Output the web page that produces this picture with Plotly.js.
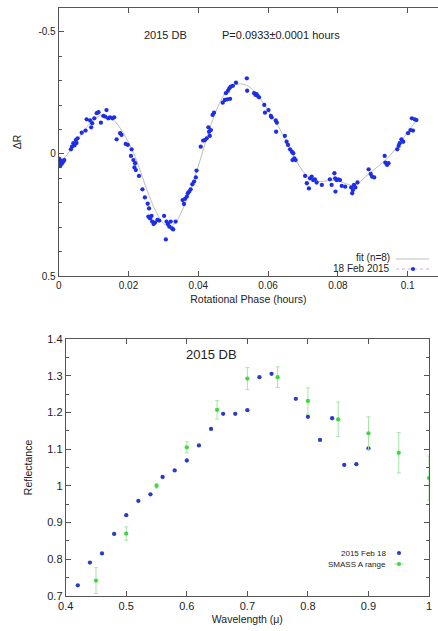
<!DOCTYPE html>
<html>
<head>
<meta charset="utf-8">
<script src="https://cdn.plot.ly/plotly-3.0.1.min.js"></script>
<style>html,body{margin:0;padding:0;background:#fff;}#chart{width:438px;height:631px;}</style>
</head>
<body>
<div id="chart"></div>
<script>
// ---- Light curve (top panel) ----
const lcPhase = [0.0002,0.0003,0.0004,0.0005,0.0007,0.0009,0.0011,0.0013,0.0016,
 0.0035,0.0038,0.0042,0.0045,0.0049,0.0051,0.0054,0.0066,0.0077,0.0080,0.0090,0.0093,0.0096,0.0102,0.0109,0.0114,0.0121,0.0128,0.0133,0.0137,0.0142,0.0147,0.0154,0.0159,
 0.0166,0.0176,0.0180,0.0192,0.0198,0.0207,0.0209,0.0214,0.0217,0.0219,0.0221,0.0230,0.0240,0.0247,0.0255,0.0259,0.0257,0.0262,0.0266,0.0268,0.0272,0.0276,0.0283,0.0288,
 0.0302,0.0307,0.0309,0.0313,0.0317,0.0321,0.0325,0.0328,0.0335,
 0.0355,0.0359,0.0362,0.0367,0.0370,0.0374,0.0378,0.0383,0.0388,0.0393,0.0395,0.0407,0.0414,0.0419,0.0424,0.0429,0.0431,0.0433,0.0436,0.0441,0.0445,
 0.0470,0.0476,0.0479,0.0483,0.0485,0.0489,0.0491,0.0493,0.0499,0.0508,0.0539,0.0540,
 0.0560,0.0564,0.0567,0.0570,0.0574,0.0589,0.0591,0.0601,0.0608,0.0610,0.0622,0.0625,0.0623,0.0648,0.0653,0.0657,0.0663,0.0668,0.0672,0.0670,0.0675,0.0679,
 0.0706,0.0711,0.0720,0.0717,0.0725,0.0729,0.0734,0.0739,0.0754,0.0777,0.0782,0.0790,0.0792,0.0796,0.0801,0.0793,0.0806,0.0811,0.0821,0.0838,0.0841,0.0843,0.0846,0.0850,0.0856,
 0.0888,0.0894,0.0898,0.0904,0.0934,0.0936,0.0941,0.0945,0.0970,0.0974,0.0977,0.0982,0.0987,0.1001,0.1008,0.1015,0.1012,0.1020,0.1025];
const lcDR = [0.020,0.035,0.050,0.045,0.030,0.040,0.028,0.032,0.025,
 -0.019,-0.030,-0.044,-0.035,-0.057,-0.045,-0.064,-0.087,-0.096,-0.142,-0.137,-0.109,-0.126,-0.146,-0.167,-0.171,-0.128,-0.156,-0.153,-0.180,-0.146,-0.150,-0.146,-0.150,
 -0.060,-0.085,-0.078,-0.041,-0.037,0.008,-0.019,0.025,0.055,0.038,0.066,0.090,0.145,0.178,0.204,0.223,0.257,0.264,0.254,0.277,0.287,0.281,0.270,0.273,
 0.254,0.350,0.277,0.287,0.298,0.277,0.305,0.309,0.277,
 0.189,0.205,0.184,0.175,0.161,0.154,0.145,0.124,0.113,0.096,0.068,-0.030,-0.055,-0.057,-0.064,-0.109,-0.091,-0.074,-0.098,-0.160,-0.169,
 -0.210,-0.221,-0.249,-0.224,-0.259,-0.269,-0.226,-0.276,-0.279,-0.292,-0.310,-0.259,
 -0.249,-0.242,-0.245,-0.238,-0.232,-0.201,-0.169,-0.180,-0.156,-0.150,-0.137,-0.128,-0.091,-0.074,-0.050,-0.037,-0.019,-0.009,-0.003,0.025,0.018,0.025,
 0.090,0.120,0.100,0.141,0.093,0.107,0.104,0.117,0.127,0.104,0.127,0.079,0.100,0.107,0.104,0.154,0.107,0.131,0.134,0.137,0.161,0.148,0.127,0.137,0.117,
 0.063,0.082,0.093,0.096,0.008,0.036,0.045,0.038,-0.019,-0.033,-0.044,-0.060,-0.050,-0.085,-0.098,-0.096,-0.146,-0.142,-0.139];

const fitPhase = [0,0.002,0.004,0.006,0.008,0.010,0.012,0.014,0.016,0.018,0.020,0.022,0.024,0.026,0.028,0.030,0.032,0.034,0.036,0.038,0.040,0.042,0.044,0.046,0.048,0.050,0.052,0.054,0.056,0.058,0.060,0.062,0.064,0.066,0.068,0.070,0.072,0.074,0.076,0.078,0.080,0.082,0.084,0.086,0.088,0.090,0.092,0.094,0.096,0.098,0.100,0.102,0.1025];
const fitDR = [0.035,0.010,-0.030,-0.070,-0.110,-0.140,-0.157,-0.155,-0.135,-0.098,-0.048,0.015,0.095,0.175,0.240,0.285,0.295,0.270,0.210,0.135,0.050,-0.045,-0.135,-0.205,-0.255,-0.280,-0.287,-0.280,-0.257,-0.222,-0.180,-0.135,-0.085,-0.030,0.025,0.072,0.100,0.112,0.112,0.108,0.110,0.120,0.128,0.118,0.092,0.068,0.045,0.020,-0.012,-0.050,-0.090,-0.128,-0.138];

// ---- Reflectance spectrum (bottom panel) ----
const wlObs = [0.42,0.44,0.46,0.48,0.50,0.52,0.54,0.56,0.58,0.60,0.62,0.64,0.66,0.68,0.70,0.72,0.74,0.78,0.80,0.82,0.84,0.86,0.88,0.90];
const reflObs = [0.729,0.791,0.816,0.869,0.920,0.959,0.977,1.024,1.042,1.069,1.110,1.155,1.196,1.196,1.206,1.296,1.305,1.237,1.188,1.125,1.184,1.057,1.059,1.102];
const wlSmass = [0.45,0.50,0.55,0.60,0.65,0.70,0.75,0.80,0.85,0.90,0.95,1.00];
const reflSmass = [0.742,0.870,1.000,1.105,1.207,1.292,1.296,1.231,1.181,1.143,1.090,1.021];
const errSmass = [0.035,0.018,0.006,0.015,0.025,0.030,0.028,0.036,0.047,0.045,0.055,0.060];

const topTickVals = [0,0.02,0.04,0.06,0.08,0.1];
const topTickText = ['0','0.02','0.04','0.06','0.08','0.1'];
const legendTop = ['fit (n=8)', '18 Feb 2015'];
const legendBottom = ['2015 Feb 18', 'SMASS A range'];

const FONT = 'Liberation Sans, Arial, Helvetica, sans-serif';
const TXT = '#222';
const AX = '#555';
const C_LC = '#1d2ee6', C_FIT = '#bdbdbd', C_OBS = '#2b3cc4', C_SM = '#3fd83f', C_SMERR = '#a6e6a6';

const traces = [
  {x: fitPhase, y: fitDR, mode: 'lines', line: {color: C_FIT, width: 1, shape: 'spline'},
   name: legendTop[0], xaxis: 'x', yaxis: 'y', hoverinfo: 'skip'},
  {x: lcPhase, y: lcDR, mode: 'markers', marker: {color: C_LC, size: 4.3},
   name: legendTop[1], xaxis: 'x', yaxis: 'y'},
  {x: wlObs, y: reflObs, mode: 'markers', marker: {color: C_OBS, size: 4.3},
   name: legendBottom[0], xaxis: 'x2', yaxis: 'y2'},
  {x: wlSmass, y: reflSmass, mode: 'markers', marker: {color: C_SM, size: 4.3},
   error_y: {type: 'data', array: errSmass, visible: true, color: C_SMERR, thickness: 1, width: 2},
   name: legendBottom[1], xaxis: 'x2', yaxis: 'y2'}
];

const axCommon = {showline: true, linecolor: AX, linewidth: 1, ticks: 'inside', tickcolor: AX,
  ticklen: 5, zeroline: false, showgrid: false, tickfont: {family: FONT, size: 10, color: TXT}};

// legend keys (drawn as small paper-space decorations, like a gnuplot key)
const px = v => v / 438, py = v => 1 - v / 631;
function dot(cx, cy, color) {
  return {type: 'circle', xref: 'paper', yref: 'paper', x0: px(cx - 2.1), x1: px(cx + 2.1),
    y0: py(cy + 2.1), y1: py(cy - 2.1), fillcolor: color, line: {width: 0}};
}
function seg(x0, x1, y, color, dash) {
  return {type: 'line', xref: 'paper', yref: 'paper', x0: px(x0), x1: px(x1), y0: py(y), y1: py(y),
    line: {color: color, width: 1, dash: dash || 'solid'}};
}
const shapes = [
  seg(396, 429, 259, C_FIT),
  seg(396, 431, 269, '#d7a6e3', 'dot'),
  dot(413, 269, C_LC),
  dot(399, 553, C_OBS),
  seg(394, 404, 564, C_SMERR),
  dot(399, 564, C_SM)
];

const layout = {
  width: 438, height: 631,
  margin: {l: 0, r: 0, t: 0, b: 0},
  paper_bgcolor: '#fff', plot_bgcolor: '#fff',
  font: {family: FONT, color: TXT},
  showlegend: false,
  xaxis: Object.assign({}, axCommon, {
    domain: [0.134, 1], range: [0, 0.10868], anchor: 'y', mirror: 'ticks',
    tickvals: topTickVals, ticktext: topTickText,
    title: {text: 'Rotational Phase (hours)', font: {family: FONT, size: 10.5, color: TXT}, standoff: 5}
  }),
  yaxis: Object.assign({}, axCommon, {
    domain: [0.5626, 0.9873], range: [0.5, -0.598], anchor: 'x', mirror: false,
    tickvals: [-0.5, 0, 0.5], ticktext: ['-0.5', '0', '0.5'],
    minor: {dtick: 0.1, ticklen: 3, tickcolor: AX, ticks: 'inside'},
    title: {text: 'ΔR', font: {family: FONT, size: 10.5, color: TXT}, standoff: 14}
  }),
  xaxis2: Object.assign({}, axCommon, {
    domain: [0.15, 0.9795], range: [0.4, 1.0], anchor: 'y2', mirror: 'ticks',
    tickvals: [0.4,0.5,0.6,0.7,0.8,0.9,1], ticktext: ['0.4','0.5','0.6','0.7','0.8','0.9','1'],
    tickfont: {family: FONT, size: 11, color: TXT},
    title: {text: 'Wavelength (μ)', font: {family: FONT, size: 10.5, color: TXT}, standoff: 4}
  }),
  yaxis2: Object.assign({}, axCommon, {
    domain: [0.0555, 0.4628], range: [0.7, 1.4], anchor: 'x2', mirror: 'ticks',
    tickvals: [0.7,0.8,0.9,1,1.1,1.2,1.3,1.4], ticktext: ['0.7','0.8','0.9','1','1.1','1.2','1.3','1.4'],
    tickfont: {family: FONT, size: 11, color: TXT},
    minor: {dtick: 0.05, ticklen: 3, tickcolor: AX, ticks: 'inside'},
    title: {text: 'Reflectance', font: {family: FONT, size: 10.5, color: TXT}, standoff: 12}
  }),
  shapes: shapes,
  annotations: [
    {xref: 'paper', yref: 'paper', x: 165/438, y: py(35), text: '2015 DB', showarrow: false,
     xanchor: 'center', yanchor: 'middle', font: {family: FONT, size: 11, color: TXT}},
    {xref: 'paper', yref: 'paper', x: 220/438, y: py(35), text: 'P=0.0933±0.0001 hours', showarrow: false,
     xanchor: 'left', yanchor: 'middle', font: {family: FONT, size: 11, color: TXT}},
    {xref: 'paper', yref: 'paper', x: 392/438, y: py(258), text: legendTop[0], showarrow: false,
     xanchor: 'right', yanchor: 'middle', font: {family: FONT, size: 10, color: TXT}},
    {xref: 'paper', yref: 'paper', x: 392/438, y: py(268.5), text: legendTop[1], showarrow: false,
     xanchor: 'right', yanchor: 'middle', font: {family: FONT, size: 10, color: TXT}},
    {xref: 'paper', yref: 'paper', x: 211/438, y: py(354), text: '2015 DB', showarrow: false,
     xanchor: 'center', yanchor: 'middle', font: {family: FONT, size: 13, color: TXT}},
    {xref: 'paper', yref: 'paper', x: 388/438, y: py(553), text: legendBottom[0], showarrow: false,
     xanchor: 'right', yanchor: 'middle', font: {family: FONT, size: 8, color: TXT}},
    {xref: 'paper', yref: 'paper', x: 388/438, y: py(564), text: legendBottom[1], showarrow: false,
     xanchor: 'right', yanchor: 'middle', font: {family: FONT, size: 8, color: TXT}}
  ]
};

Plotly.newPlot('chart', traces, layout, {displayModeBar: false, staticPlot: true});
</script>
</body>
</html>
